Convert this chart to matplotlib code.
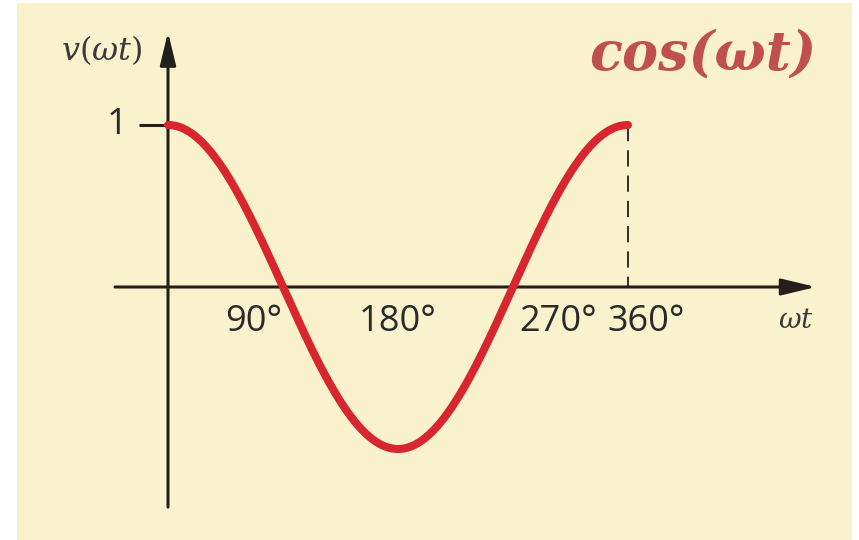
import numpy as np
import matplotlib
matplotlib.use("Agg")
import matplotlib.pyplot as plt
from matplotlib.patches import Rectangle

# ---- data ----
angle_deg = np.linspace(0, 360, 361)           # ωt in degrees
v_values = np.cos(np.deg2rad(angle_deg))        # v(ωt) = cos(ωt)
tick_positions = [90, 180, 270, 360]
tick_labels = ["90°", "180°", "270°", "360°"]
tick_label_x = [67, 180, 305, 374]              # label centres (degrees) as placed in figure
peak_value = 1

# ---- figure ----
W, H = 859, 540
fig = plt.figure(figsize=(W / 100, H / 100), dpi=100, facecolor="white")
ax = fig.add_axes([0, 0, 1, 1])
ax.set_axis_off()

# pixel mapping: 0deg -> 168px, 360deg -> 628px ; v=0 -> 287px, v=1 -> 125px
sx = 460 / 360.0
sy = 162.0
ax.set_xlim(-168 / sx, (W - 168) / sx)
ax.set_ylim(-(H - 287) / sy, 287 / sy)

def px2d(px, py):
    return (px - 168) / sx, (287 - py) / sy

# background panel
x0, y0 = px2d(17, 540)
x1, y1 = px2d(852, 3)
ax.add_patch(Rectangle((x0, y0), x1 - x0, y1 - y0, facecolor="#FAF2CC",
                       edgecolor="none", zorder=0))

axis_col = "#231F1C"
# y axis
yb = px2d(169, 507)
yt = px2d(169, 32)
ax.annotate("", xy=(0, yt[1]), xytext=(0, yb[1]),
            arrowprops=dict(arrowstyle="-|>,head_length=1.0,head_width=0.24",
                            mutation_scale=20, lw=2.2, color=axis_col,
                            shrinkA=0, shrinkB=0), zorder=3)
# x axis
xl = px2d(115, 287)
xr = px2d(816, 287)
ax.annotate("", xy=(xr[0], 0), xytext=(xl[0], 0),
            arrowprops=dict(arrowstyle="-|>,head_length=1.0,head_width=0.24",
                            mutation_scale=21, lw=2.2, color=axis_col,
                            shrinkA=0, shrinkB=0), zorder=3)

# tick at 1
tk = px2d(139, 125)
ax.plot([tk[0], 0], [peak_value, peak_value], color=axis_col, lw=2.2,
        solid_capstyle="butt", zorder=3)
ax.text(px2d(117, 0)[0], peak_value, "1", fontsize=26, family="Open Sans",
        color="#2A2A2A", ha="center", va="center")

# dashed line at 360
ax.plot([360, 360], [v_values[-1], 0], color=axis_col, lw=1.3,
        linestyle=(0, (9, 5)), zorder=2)

# curve
ax.plot(angle_deg, v_values, color="#D7262E", lw=5.8, solid_capstyle="round",
        zorder=4)

# x tick labels
label_y = px2d(0, 322)[1]
for lx, lab in zip(tick_label_x, tick_labels):
    ax.text(lx, label_y, lab, fontsize=26, family="Open Sans", color="#2A2A2A",
            ha="center", va="center", zorder=5)

# axis labels
ax.text(px2d(796, 0)[0], px2d(0, 320)[1], r"$\omega t$", fontsize=20,
        color="#3A3A3A", ha="center", va="center",
        math_fontfamily="dejavuserif")
ax.text(px2d(102, 0)[0], px2d(0, 50)[1], r"$v(\omega t)$", fontsize=23,
        color="#3A3A3A", ha="center", va="center",
        math_fontfamily="dejavuserif")

# title
ax.text(px2d(703, 0)[0], px2d(0, 55)[1], "cos(ωt)", fontsize=39,
        family="DejaVu Serif", weight="bold", style="italic",
        color="#C0504D", ha="center", va="center")

fig.savefig("out.png", dpi=100, facecolor="white")
